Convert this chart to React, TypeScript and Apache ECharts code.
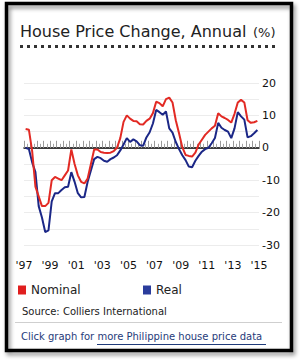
import React, { useEffect, useRef } from "react";
import * as echarts from "echarts";

const START_YEAR = 1997;
const X_TICK_YEARS = [1997, 1999, 2001, 2003, 2005, 2007, 2009, 2011, 2013, 2015];
const Y_TICKS = [20, 10, 0, -10, -20, -30];

// Quarterly annual change (%), 1997 Q1 .. 2014 Q4
const nominal = [
  5.8, 5.6, -1, -12, -15, -18, -18, -17, -10, -9,
  -9.5, -10, -8.5, -7, -0.5, -5, -8.5, -10.5, -11, -9.5,
  -5, -0.5, -0.5, -1.3, -1.5, -1.6, -1.5, -1, 0, 3,
  8, 10, 9, 8.3, 8.2, 7.3, 7.2, 8.3, 9, 10.7,
  14.2, 13.8, 12.8, 15, 15.5, 14, 8.5, 4.5, 0.2, -2.2,
  -2.5, -2.7, -1.5, 1, 2.5, 4, 5, 6, 6.8, 10.7,
  9.7, 9.2, 8.6, 7.8, 10.5, 14, 14.8, 14, 8.5, 7.7,
  7.9, 8.3,
];
const real = [
  0, -0.4, -4.5, -7.5, -18, -21.5, -26, -25.5, -16.5, -14,
  -14, -13, -12.2, -12, -7.5, -10.5, -14, -15.3, -15.2, -10.5,
  -7, -3.5, -2.8, -3.2, -4, -4.3, -3.5, -3, -2.3, -0.8,
  1, 3, 1.8, 2.6, 2, 0.8, 0.6, 3.2, 4.8, 7.5,
  11.7, 11, 10.2, 11.2, 6, 4.7, 1.8, -0.4, -2.3, -3.8,
  -5.8, -6, -4, -2.5, -1.2, -0.4, 0, 1.4, 3, 7.7,
  6.2, 5.5, 5, 3, 6, 11, 9.7, 8.7, 3.2, 3.6,
  4.5, 5.5,
];

const FONT = "'DejaVu Sans', Verdana, sans-serif";
const RED = "#e22a24";
const BLUE = "#1b2787";

const toPairs = (arr: number[]) => arr.map((v, i) => [START_YEAR + (i + 0.5) / 4, v]);

export default function App() {
  const ref = useRef<HTMLDivElement>(null);
  useEffect(() => {
    if (!ref.current) return;
    const chart = echarts.init(ref.current, null, { renderer: "svg" });
    const xMin = X_TICK_YEARS[0];
    const xMax = X_TICK_YEARS[X_TICK_YEARS.length - 1];
    chart.setOption({
      animation: false,
      backgroundColor: "#fff",
      grid: { left: 24, right: 41, top: 83, bottom: 115 },
      xAxis: [
        {
          type: "value",
          min: xMin,
          max: xMax,
          interval: 2,
          axisLine: { show: false, onZero: false },
          axisTick: { show: false },
          splitLine: { show: false },
          axisLabel: {
            margin: 15,
            fontFamily: FONT,
            fontSize: 11,
            color: "#111",
            formatter: (v: number) => "'" + String(v).slice(2),
          },
        },
        {
          type: "value",
          min: xMin,
          max: xMax,
          interval: 0.5,
          position: "bottom",
          axisLine: { show: true, onZero: true, lineStyle: { color: "#000", width: 1.5 } },
          axisTick: { show: true, inside: true, length: 7, lineStyle: { color: "#9a9a9a", width: 1 } },
          minorTick: { show: true, splitNumber: 2, length: 4, lineStyle: { color: "#a5a5a5", width: 1 } },
          axisLabel: { show: false },
          splitLine: { show: false },
        },
      ],
      yAxis: {
        type: "value",
        position: "right",
        min: Y_TICKS[Y_TICKS.length - 1],
        max: Y_TICKS[0],
        interval: 5,
        axisLine: { show: false },
        axisTick: { show: false },
        splitLine: { show: true, lineStyle: { color: "#ececec", width: 1 } },
        axisLabel: {
          margin: 3,
          align: "left",
          fontFamily: FONT,
          fontSize: 11,
          color: "#111",
          formatter: (v: number) => (Y_TICKS.indexOf(v) >= 0 ? String(v) : ""),
        },
      },
      legend: [
        {
          data: [{ name: "Nominal", itemStyle: { color: "#e01e1e" } }],
          left: 18,
          top: 284,
          padding: 0,
          icon: "rect",
          itemWidth: 8,
          itemHeight: 9,
          textStyle: { fontFamily: FONT, fontSize: 12, color: "#222" },
        },
        {
          data: [{ name: "Real", itemStyle: { color: "#2a3c9c" } }],
          left: 143,
          top: 284,
          padding: 0,
          icon: "rect",
          itemWidth: 8,
          itemHeight: 9,
          textStyle: { fontFamily: FONT, fontSize: 12, color: "#222" },
        },
      ],
      series: [
        {
          name: "Real",
          type: "line",
          xAxisIndex: 0,
          data: toPairs(real),
          showSymbol: false,
          lineStyle: { color: BLUE, width: 2 },
          itemStyle: { color: BLUE },
          z: 3,
        },
        {
          name: "Nominal",
          type: "line",
          xAxisIndex: 0,
          data: toPairs(nominal),
          showSymbol: false,
          lineStyle: { color: RED, width: 2 },
          itemStyle: { color: RED },
          z: 4,
        },
      ],
      graphic: [
        {
          type: "rect",
          shape: { x: 6.5, y: 3.5, width: 285, height: 347 },
          style: {
            fill: "none",
            stroke: "#000",
            lineWidth: 3.5,
            shadowBlur: 4,
            shadowOffsetX: 2,
            shadowOffsetY: 3,
            shadowColor: "rgba(0,0,0,0.45)",
          },
          z: 10,
        },
        {
          type: "text",
          x: 20,
          y: 31,
          style: {
            text: "House Price Change, Annual",
            font: "16px " + FONT,
            fill: "#222",
            verticalAlign: "middle",
          },
        },
        {
          type: "text",
          x: 253,
          y: 32,
          style: { text: "(%)", font: "13px " + FONT, fill: "#222", verticalAlign: "middle" },
        },
        {
          type: "line",
          shape: { x1: 20, y1: 46.5, x2: 276, y2: 46.5 },
          style: { stroke: "#333", lineWidth: 3, lineDash: [3, 4] },
        },
        {
          type: "text",
          x: 22,
          y: 311,
          style: {
            text: "Source: Colliers International",
            font: "10px " + FONT,
            fill: "#222",
            verticalAlign: "middle",
          },
        },
        {
          type: "line",
          shape: { x1: 15, y1: 322.5, x2: 282, y2: 322.5 },
          style: { stroke: "#cfcfcf", lineWidth: 1 },
        },
        {
          type: "text",
          x: 21,
          y: 336,
          style: {
            text: "Click graph for more Philippine house price data",
            font: "10px " + FONT,
            fill: "#1f3b7a",
            verticalAlign: "middle",
          },
        },
        {
          type: "line",
          shape: { x1: 97, y1: 344.5, x2: 266, y2: 344.5 },
          style: { stroke: "#1f3b7a", lineWidth: 1 },
        },
      ],
    });
    return () => chart.dispose();
  }, []);
  return (
    <div
      ref={ref}
      style={{ position: "fixed", left: 0, top: 0, width: 300, height: 360 }}
    />
  );
}
